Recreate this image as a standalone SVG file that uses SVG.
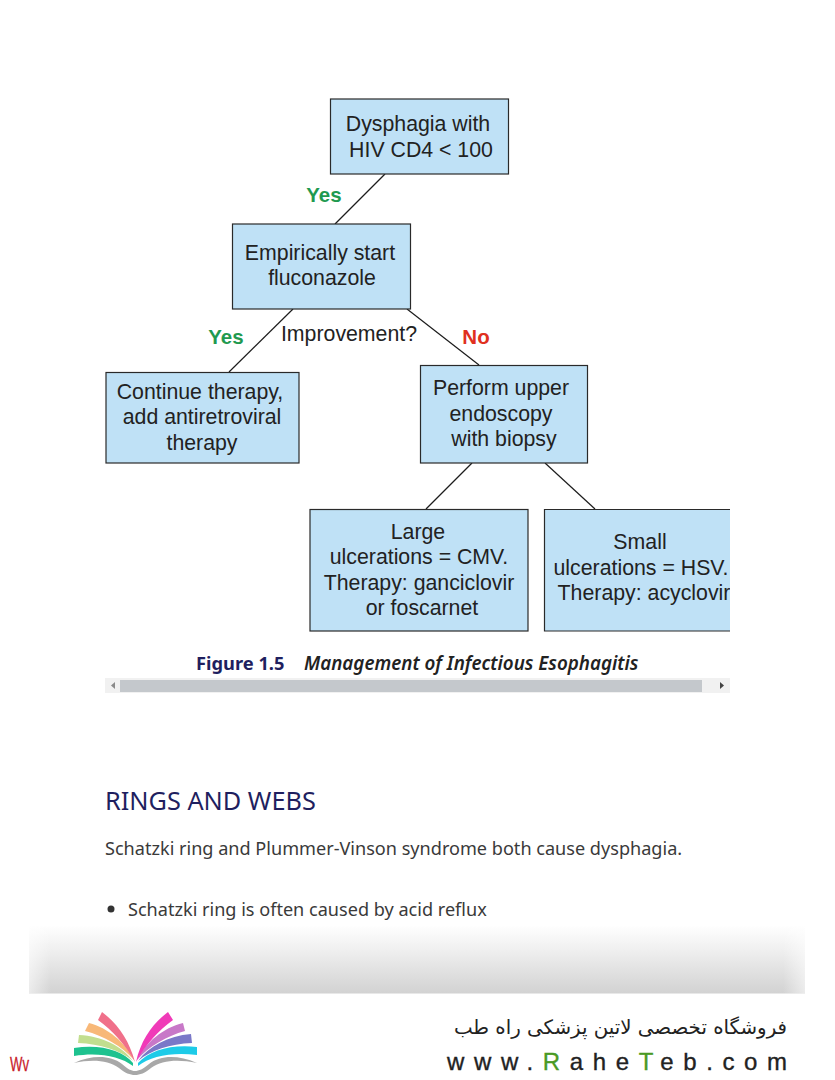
<svg xmlns="http://www.w3.org/2000/svg" width="835" height="1080" viewBox="0 0 835 1080">
<defs>
<linearGradient id="band" x1="0" y1="0" x2="0" y2="1"><stop offset="0" stop-color="#fff"/><stop offset="0.35" stop-color="#f0f0f0"/><stop offset="1" stop-color="#d2d2d2"/></linearGradient>
<linearGradient id="fadeL" x1="0" y1="0" x2="1" y2="0"><stop offset="0" stop-color="#fff" stop-opacity="0.55"/><stop offset="1" stop-color="#fff" stop-opacity="0"/></linearGradient>
<linearGradient id="fadeR" x1="1" y1="0" x2="0" y2="0"><stop offset="0" stop-color="#fff" stop-opacity="0.55"/><stop offset="1" stop-color="#fff" stop-opacity="0"/></linearGradient>
</defs>
<style>
.box{fill:#bfe1f6;stroke:#2a2a2a;stroke-width:1.2}
.t{font-family:"Liberation Sans",Arial,sans-serif;font-size:21.300px;fill:#222;text-anchor:middle}
.yes{font-family:"Liberation Sans",Arial,sans-serif;font-size:20.500px;font-weight:bold;fill:#1f9a50;text-anchor:middle}
.no{font-family:"Liberation Sans",Arial,sans-serif;font-size:20.500px;font-weight:bold;fill:#e0301e;text-anchor:middle}
.c{stroke:#1c1c1c;stroke-width:1.2;fill:none}
.body{font-family:"Noto Sans","Open Sans",sans-serif;font-size:18.100px;fill:#3a3a3a}
</style>
<rect width="835" height="1080" fill="#fff"/>
<g id="connectors">
<line class="c" x1="385" y1="174" x2="335" y2="224"/>
<line class="c" x1="293" y1="309" x2="229" y2="372"/>
<line class="c" x1="407" y1="309" x2="479" y2="365"/>
<line class="c" x1="472" y1="463" x2="426" y2="509"/>
<line class="c" x1="545" y1="463" x2="595" y2="509"/>
</g>
<g id="n1"><rect class="box" x="330.500" y="99" width="178" height="75"/><text class="t" x="418" y="131">Dysphagia with</text><text class="t" x="421" y="157">HIV CD4 &lt; 100</text></g>
<g id="n2"><rect class="box" x="232.500" y="224" width="178" height="85"/><text class="t" x="320" y="260">Empirically start</text><text class="t" x="322" y="285">fluconazole</text></g>
<g id="n3"><rect class="box" x="106" y="372.500" width="193" height="90.500"/><text class="t" x="200" y="399">Continue therapy,</text><text class="t" x="202" y="424">add antiretroviral</text><text class="t" x="202" y="450">therapy</text></g>
<g id="n4"><rect class="box" x="420.500" y="365.500" width="167" height="97.500"/><text class="t" x="501" y="395">Perform upper</text><text class="t" x="501" y="421">endoscopy</text><text class="t" x="504" y="446">with biopsy</text></g>
<g id="n5"><rect class="box" x="310" y="509.500" width="218" height="121.500"/><text class="t" x="418" y="539">Large</text><text class="t" x="419" y="564">ulcerations = CMV.</text><text class="t" x="419" y="590">Therapy: ganciclovir</text><text class="t" x="422" y="615">or foscarnet</text></g>
<g id="n6"><path class="box" d="M730 509.500H544.500V631H730"/><text class="t" x="640" y="549">Small</text><text class="t" x="641" y="575">ulcerations = HSV.</text><text class="t" x="644" y="600">Therapy: acyclovir</text></g>
<rect x="730" y="500" width="20" height="140" fill="#fff"/>
<text class="yes" x="324" y="202">Yes</text>
<text class="yes" x="226" y="344">Yes</text>
<text class="no" x="476" y="344">No</text>
<text class="t" x="349" y="341">Improvement?</text>
<g id="caption">
<text x="196" y="670" font-family="'Noto Sans','Open Sans',sans-serif" font-size="18.300" font-weight="700" fill="#1f1f5f">Figure 1.5</text>
<text x="304" y="670" font-family="'Noto Sans','Open Sans',sans-serif" font-size="18.800" font-style="italic" font-weight="600" fill="#222">Management of Infectious Esophagitis</text>
</g>
<g id="scrollbar">
<rect x="105" y="678" width="625" height="15" fill="#f1f1f1"/>
<rect x="120" y="680" width="582" height="12" fill="#c4c8cc"/>
<path d="M115 682v7l-4-3.500z" fill="#8a8a8a"/><path d="M720 682v7l4-3.500z" fill="#444"/>
</g>
<text x="105" y="810" font-family="'Noto Sans','Open Sans',sans-serif" font-size="25.300" fill="#1f1f5f">RINGS AND WEBS</text>
<text class="body" x="105" y="855">Schatzki ring and Plummer-Vinson syndrome both cause dysphagia.</text>
<circle cx="111" cy="909" r="3.500" fill="#333"/>
<text class="body" x="128" y="916">Schatzki ring is often caused by acid reflux</text>
<g id="band">
<rect x="29" y="925" width="776" height="68.500" fill="url(#band)"/>
<rect x="29" y="925" width="22" height="68.500" fill="url(#fadeL)"/>
<rect x="783" y="925" width="22" height="68.500" fill="url(#fadeR)"/>
</g>
<text x="10" y="1071" font-family="'Liberation Sans Narrow','Liberation Sans',sans-serif" font-size="20" fill="#c8202a" stroke="#c8202a" stroke-width="0.300" textLength="19" lengthAdjust="spacingAndGlyphs">Wv</text>
<g id="logo">
<path d="M74 1048C100 1044 122 1050 133 1063L133 1066C120 1056 98 1052 74 1056z" fill="#1ec28f"/>
<path d="M79 1035C102 1036 122 1046 133 1061C120 1050 100 1044 78 1043z" fill="#c2de8f"/>
<path d="M89 1023C108 1028 125 1042 134 1060C122 1046 104 1036 85 1031z" fill="#f8b878"/>
<path d="M102 1012C118 1024 129 1040 135 1062C125 1044 112 1030 98 1020z" fill="#f0708a"/>
<path d="M197 1047C172 1044 150 1050 138 1063L138 1066C151 1056 172 1052 197 1055z" fill="#1ecbe8"/>
<path d="M191 1034C168 1036 149 1046 138 1061C151 1050 170 1044 192 1043z" fill="#7a78c8"/>
<path d="M183 1023C163 1028 146 1042 137 1060C149 1046 167 1036 185 1031z" fill="#c878c8"/>
<path d="M168 1012C152 1024 141 1040 136 1062C146 1044 159 1030 173 1020z" fill="#f03ab8"/>
<path d="M74 1063C92 1055 110 1055 122 1064C128 1069 131 1071 135 1071C139 1071 143 1069 149 1064C161 1055 178 1055 197 1063C178 1059 162 1060 151 1068C145 1073 140 1075 135 1075C130 1075 125 1073 119 1068C108 1060 92 1059 74 1063z" fill="#a8a8a8"/>
</g>
<text x="787" y="1034" text-anchor="start" direction="rtl" font-family="'DejaVu Sans',sans-serif" font-size="19.800" fill="#222">فروشگاه تخصصی لاتین پزشکی  راه طب</text>
<text x="447" y="1070" font-family="'Liberation Sans',Arial,sans-serif" font-size="24" fill="#222" stroke="#222" stroke-width="0.350" textLength="340">www.<tspan fill="#4a9a24" stroke="#4a9a24">R</tspan>ahe<tspan fill="#4a9a24" stroke="#4a9a24">T</tspan>eb.com</text>
</svg>
